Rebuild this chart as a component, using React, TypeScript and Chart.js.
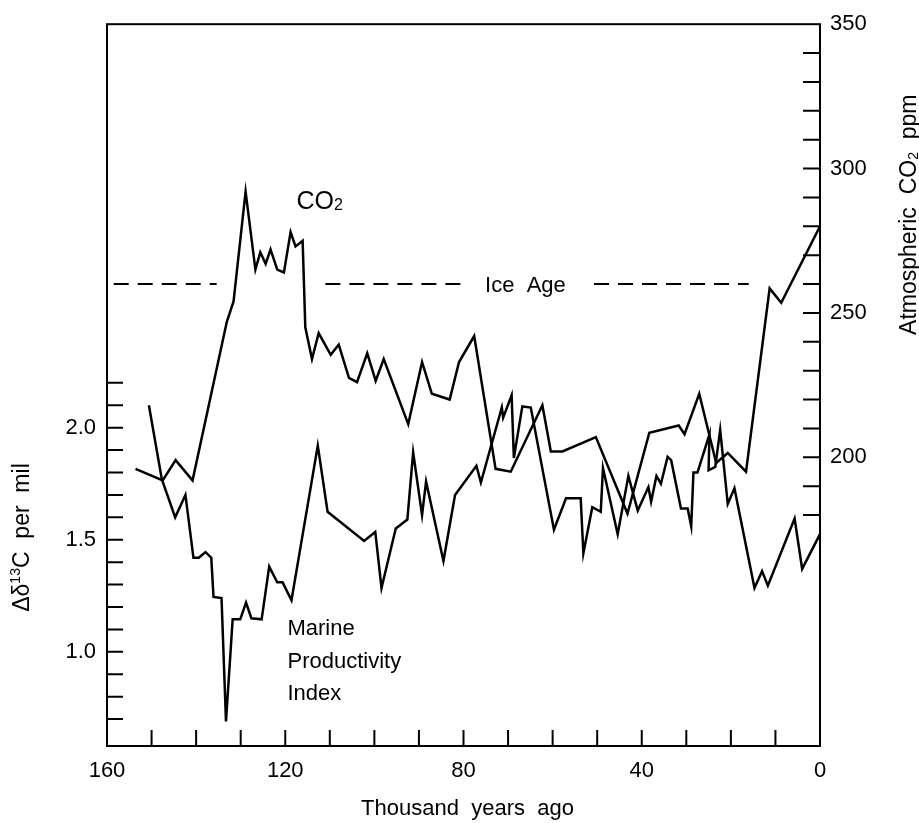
import React, { useEffect, useRef } from 'react';
import { Chart, registerables } from 'chart.js';

Chart.register(...registerables);

// ---- Data (thousand years ago) ----
const CO2_KYR = [153.6, 147.5, 144.6, 140.8, 133.1, 131.6, 128.9, 126.7, 125.6, 124.4, 123.3, 121.8, 120.3, 118.8, 117.7, 116.1, 115.5, 114.0, 112.5, 109.8, 108.0, 105.7, 103.9, 101.6, 99.7, 97.9, 92.4, 89.3, 87.1, 83.1, 81.0, 77.6, 72.8, 69.4, 62.3, 60.4, 57.8, 50.3, 43.2, 38.3, 31.7, 30.4, 27.1, 23.3, 20.7, 16.6, 11.3, 8.7, 0];
const CO2_PPM = [196, 192, 199, 192, 247, 254, 292, 265, 271, 267, 272, 265, 264, 278, 273, 275, 245, 234, 243, 235.5, 239, 227.5, 226, 236, 226.5, 234, 211.5, 233, 222, 220, 233, 242, 196, 195, 218, 202, 202, 207, 180.5, 208.5, 211, 208, 222, 198, 201.5, 195, 258.5, 253.5, 280];

const MPI_KYR = [150.6, 147.7, 144.7, 142.4, 140.6, 139.4, 137.9, 136.6, 136.1, 134.3, 133.3, 131.8, 130.1, 128.8, 127.6, 125.3, 123.6, 121.8, 120.6, 118.6, 112.7, 110.5, 102.3, 99.8, 98.4, 95.2, 92.6, 91.3, 89.3, 88.4, 84.5, 81.9, 77.1, 76.1, 71.4, 71.1, 69.2, 68.7, 66.8, 64.9, 59.7, 57.0, 53.7, 53.1, 51.1, 49.2, 48.7, 45.4, 43.0, 40.9, 38.5, 37.9, 36.7, 35.7, 34.2, 33.4, 31.2, 29.7, 28.9, 28.4, 27.5, 24.8, 25.0, 23.5, 22.4, 20.7, 19.2, 14.7, 13.0, 11.7, 5.7, 4.0, 0];
const MPI_VAL = [2.10, 1.77, 1.60, 1.70, 1.42, 1.42, 1.445, 1.42, 1.245, 1.24, 0.69, 1.145, 1.145, 1.22, 1.15, 1.145, 1.38, 1.31, 1.31, 1.23, 1.92, 1.625, 1.495, 1.535, 1.285, 1.55, 1.59, 1.89, 1.61, 1.76, 1.405, 1.70, 1.83, 1.755, 2.09, 2.045, 2.145, 1.865, 2.095, 2.09, 1.545, 1.685, 1.685, 1.44, 1.645, 1.625, 1.82, 1.525, 1.785, 1.63, 1.735, 1.67, 1.785, 1.75, 1.87, 1.855, 1.64, 1.64, 1.56, 1.80, 1.80, 1.97, 1.81, 1.825, 1.99, 1.66, 1.73, 1.285, 1.36, 1.295, 1.595, 1.37, 1.525];

const ICE_AGE_START = [158.5, 111.0, 50.7];
const ICE_AGE_END = [135.4, 80.3, 16.0];
const ICE_AGE_PPM = 260;

// ---- Axes / ticks ----
const X_RANGE = [0, 160];
const X_LABEL_TICKS = [160, 120, 80, 40, 0];
const X_TICK_MARKS = [150, 140, 130, 120, 110, 100, 90, 80, 70, 60, 50, 40, 30, 20, 10];
const LEFT_RANGE = [0.58, 3.8];
const LEFT_LABEL_TICKS = [1.0, 1.5, 2.0];
const LEFT_TICK_MARKS = [0.7, 0.8, 0.9, 1.0, 1.1, 1.2, 1.3, 1.4, 1.5, 1.6, 1.7, 1.8, 1.9, 2.0, 2.1, 2.2];
const RIGHT_RANGE = [100, 350];
const RIGHT_LABEL_TICKS = [200, 250, 300, 350];
const RIGHT_TICK_MARKS = [180, 190, 200, 210, 220, 230, 240, 250, 260, 270, 280, 290, 300, 310, 320, 330, 340];

const FONT = '"Liberation Sans", Arial, Helvetica, sans-serif';

type Run = { t: string; s: number; dy?: number };

function runsWidth(ctx: CanvasRenderingContext2D, runs: Run[]) {
  let w = 0;
  for (const r of runs) {
    ctx.font = `${r.s}px ${FONT}`;
    w += ctx.measureText(r.t).width;
  }
  return w;
}

function drawRuns(ctx: CanvasRenderingContext2D, runs: Run[], x: number, y: number, align: 'left' | 'center') {
  const w = runsWidth(ctx, runs);
  let cx = align === 'center' ? x - w / 2 : x;
  ctx.textAlign = 'left';
  ctx.textBaseline = 'alphabetic';
  for (const r of runs) {
    ctx.font = `${r.s}px ${FONT}`;
    ctx.fillText(r.t, cx, y + (r.dy || 0));
    cx += ctx.measureText(r.t).width;
  }
}

const decorPlugin = {
  id: 'decor',
  afterDatasetsDraw(chart: any) {
    const { ctx, chartArea: a, scales } = chart;
    const sx = scales.x, sy = scales.y, sy2 = scales.y2;
    ctx.save();
    ctx.strokeStyle = '#000';
    ctx.fillStyle = '#000';
    ctx.lineWidth = 2;
    ctx.strokeRect(a.left, a.top, a.right - a.left, a.bottom - a.top);
    ctx.beginPath();
    for (const v of X_TICK_MARKS) {
      const px = sx.getPixelForValue(v);
      ctx.moveTo(px, a.bottom);
      ctx.lineTo(px, a.bottom - 16);
    }
    for (const v of LEFT_TICK_MARKS) {
      const py = sy.getPixelForValue(v);
      ctx.moveTo(a.left, py);
      ctx.lineTo(a.left + 16, py);
    }
    for (const v of RIGHT_TICK_MARKS) {
      const py = sy2.getPixelForValue(v);
      ctx.moveTo(a.right, py);
      ctx.lineTo(a.right - 17, py);
    }
    ctx.stroke();

    // Annotations anchored to data coordinates
    drawRuns(ctx, [{ t: 'CO', s: 25 }, { t: '2', s: 16, dy: 1 }], sx.getPixelForValue(117.5), sy2.getPixelForValue(289) + 9, 'left');

    ctx.font = `22px ${FONT}`;
    ctx.textAlign = 'center';
    ctx.textBaseline = 'middle';
    ctx.fillText('Ice  Age', sx.getPixelForValue(66.1), sy2.getPixelForValue(259.3));

    ctx.textAlign = 'left';
    const mx = sx.getPixelForValue(119.5);
    const my = sy.getPixelForValue(1.10);
    ['Marine', 'Productivity', 'Index'].forEach((line, i) => {
      ctx.fillText(line, mx, my + i * 32.5);
    });

    // Axis titles
    drawRuns(ctx, [{ t: 'Thousand  years  ago', s: 22 }], (a.left + a.right) / 2 + 4, a.bottom + 69, 'center');

    ctx.save();
    ctx.translate(a.left - 78, sy.getPixelForValue(1.51));
    ctx.rotate(-Math.PI / 2);
    drawRuns(ctx, [{ t: 'Δδ', s: 23 }, { t: '13', s: 14, dy: -9 }, { t: 'C  per  mil', s: 23 }], 0, 0, 'center');
    ctx.restore();

    ctx.save();
    ctx.translate(a.right + 96, sy2.getPixelForValue(284));
    ctx.rotate(-Math.PI / 2);
    drawRuns(ctx, [{ t: 'Atmospheric  CO', s: 23 }, { t: '2', s: 14, dy: 2 }, { t: '  ppm', s: 23 }], 0, 0, 'center');
    ctx.restore();

    ctx.restore();
  },
};

export default function App() {
  const ref = useRef<HTMLCanvasElement | null>(null);

  useEffect(() => {
    if (!ref.current) return;
    const co2Data = CO2_KYR.map((k, i) => ({ x: k, y: CO2_PPM[i] }));
    const mpiData = MPI_KYR.map((k, i) => ({ x: k, y: MPI_VAL[i] }));
    const iceData: { x: number; y: number | null }[] = [];
    ICE_AGE_START.forEach((s, i) => {
      iceData.push({ x: s, y: ICE_AGE_PPM });
      iceData.push({ x: ICE_AGE_END[i], y: ICE_AGE_PPM });
      iceData.push({ x: ICE_AGE_END[i] - 0.01, y: null });
    });

    const tickFont = { family: FONT, size: 22 };
    const chart = new Chart(ref.current, {
      type: 'line',
      data: {
        datasets: [
          { label: 'CO2', data: co2Data, yAxisID: 'y2', borderColor: '#000', borderWidth: 2.5, pointRadius: 0, tension: 0, fill: false },
          { label: 'Marine Productivity Index', data: mpiData, yAxisID: 'y', borderColor: '#000', borderWidth: 2.5, pointRadius: 0, tension: 0, fill: false },
          { label: 'Ice Age', data: iceData as any, yAxisID: 'y2', borderColor: '#000', borderWidth: 2, borderDash: [15, 9], pointRadius: 0, spanGaps: false, fill: false },
        ],
      },
      options: {
        responsive: false,
        animation: false,
        devicePixelRatio: 1,
        layout: { padding: { top: 18, left: 0, right: 0, bottom: 0 } },
        plugins: { legend: { display: false }, tooltip: { enabled: false } },
        scales: {
          x: {
            type: 'linear',
            position: 'bottom',
            reverse: true,
            min: X_RANGE[0],
            max: X_RANGE[1],
            grid: { display: false, drawTicks: false, tickLength: 0 },
            border: { display: false },
            afterBuildTicks: (s: any) => { s.ticks = X_LABEL_TICKS.map((v) => ({ value: v })); },
            afterFit: (s: any) => { s.height = 77; },
            ticks: { padding: 12, color: '#000', font: tickFont, autoSkip: false, maxRotation: 0, callback: (v: any) => String(v) },
          },
          y: {
            type: 'linear',
            position: 'left',
            min: LEFT_RANGE[0],
            max: LEFT_RANGE[1],
            grid: { display: false, drawTicks: false, tickLength: 0 },
            border: { display: false },
            afterBuildTicks: (s: any) => { s.ticks = LEFT_LABEL_TICKS.map((v) => ({ value: v })); },
            afterFit: (s: any) => { s.width = 107; },
            ticks: { padding: 11, color: '#000', font: tickFont, autoSkip: false, callback: (v: any) => Number(v).toFixed(1) },
          },
          y2: {
            type: 'linear',
            position: 'right',
            min: RIGHT_RANGE[0],
            max: RIGHT_RANGE[1],
            grid: { display: false, drawTicks: false, tickLength: 0 },
            border: { display: false },
            afterBuildTicks: (s: any) => { s.ticks = RIGHT_LABEL_TICKS.map((v) => ({ value: v })); },
            afterFit: (s: any) => { s.width = 99; },
            ticks: { padding: 10, color: '#000', font: tickFont, autoSkip: false, callback: (v: any) => String(v) },
          },
        },
      },
      plugins: [decorPlugin],
    } as any);
    return () => chart.destroy();
  }, []);

  return (
    <div style={{ position: 'absolute', left: 0, top: 0, width: 919, height: 823, background: '#fff' }}>
      <canvas ref={ref} width={919} height={823} style={{ display: 'block', width: 919, height: 823 }} />
    </div>
  );
}
